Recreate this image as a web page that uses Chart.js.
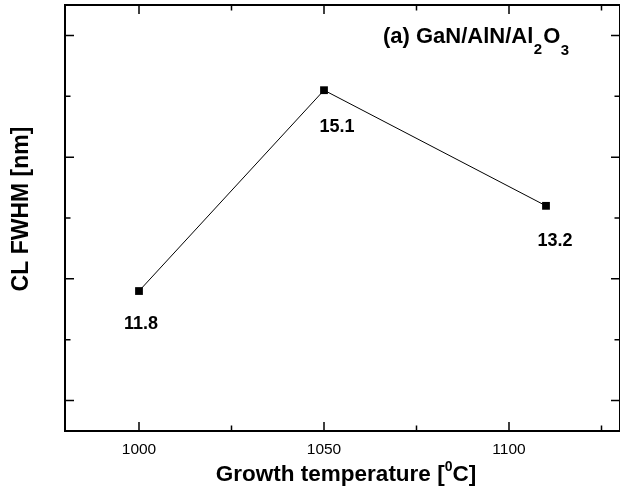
<!DOCTYPE html>
<html>
<head>
<meta charset="utf-8">
<script src="https://cdn.jsdelivr.net/npm/chart.js@4.4.1/dist/chart.umd.min.js"></script>
<style>
  html, body { margin: 0; padding: 0; background: #ffffff; overflow: hidden; }
  #wrap { width: 620px; height: 491px; }
</style>
</head>
<body>
<div id="wrap"><canvas id="c" width="620" height="491"></canvas></div>
<script>
// ---- data ----
const temperatures = [1000, 1050, 1110];
const fwhm = [11.8, 15.1, 13.2];
const pointLabels = ['11.8', '15.1', '13.2'];
const xTickValues = [1000, 1050, 1100];
const xMinorTickValues = [1025, 1075, 1125];
const yMajorTickValues = [10, 12, 14, 16];
const yMinorTickValues = [11, 13, 15];

const FONT = '"Liberation Sans", Arial, Helvetica, sans-serif';

// label placement relative to each point (pixels)
const labelOffsets = [[2, 33], [13, 37], [9, 35]];

const framePlugin = {
  id: 'frame',
  afterDatasetsDraw(chart) {
    const ctx = chart.ctx;
    const a = chart.chartArea;
    const xs = chart.scales.x, ys = chart.scales.y;
    ctx.save();
    ctx.strokeStyle = '#000';
    // ticks
    ctx.lineWidth = 1.5;
    const majorLen = 9, minorLen = 5.5;
    ctx.beginPath();
    const xt = (vals, len) => vals.forEach(v => {
      const px = xs.getPixelForValue(v);
      ctx.moveTo(px, a.bottom); ctx.lineTo(px, a.bottom - len);
      ctx.moveTo(px, a.top); ctx.lineTo(px, a.top + len);
    });
    const yt = (vals, len) => vals.forEach(v => {
      const py = ys.getPixelForValue(v);
      ctx.moveTo(a.left, py); ctx.lineTo(a.left + len, py);
      ctx.moveTo(a.right, py); ctx.lineTo(a.right - len, py);
    });
    xt(xTickValues, majorLen); xt(xMinorTickValues, minorLen);
    yt(yMajorTickValues, majorLen); yt(yMinorTickValues, minorLen);
    ctx.stroke();
    // frame
    ctx.lineWidth = 2;
    ctx.strokeRect(a.left, a.top, a.right - a.left, a.bottom - a.top);

    // point labels
    ctx.fillStyle = '#000';
    ctx.font = 'bold 18px ' + FONT;
    ctx.textAlign = 'center';
    ctx.textBaseline = 'middle';
    const meta = chart.getDatasetMeta(0);
    meta.data.forEach((pt, i) => {
      const o = labelOffsets[i];
      ctx.fillText(pointLabels[i], pt.x + o[0], pt.y + o[1]);
    });

    // annotation "(a) GaN/AlN/Al2O3"
    ctx.textAlign = 'left';
    ctx.textBaseline = 'alphabetic';
    let x = 383; const base = 43;
    const big = 'bold 22px ' + FONT, small = 'bold 15px ' + FONT;
    const parts = [['(a) GaN/AlN/Al', big, 0, 0.5], ['2', small, 11, 1], ['O', big, 0, 0.5], ['3', small, 12, 0]];
    parts.forEach(p => {
      ctx.font = p[1];
      ctx.fillText(p[0], x, base + p[2]);
      x += ctx.measureText(p[0]).width + p[3];
    });

    // x title "Growth temperature [0C]"
    const xb = 481;
    const tBig = 'bold 22.5px ' + FONT, tSmall = 'bold 14px ' + FONT;
    const t1 = 'Growth temperature [', t3 = 'C]';
    ctx.font = tSmall;
    const w2 = ctx.measureText('0').width;
    ctx.font = tBig;
    const w1 = ctx.measureText(t1).width, w3 = ctx.measureText(t3).width;
    const total = w1 + w2 + w3;
    let tx = 346 - total / 2;
    ctx.fillText(t1, tx, xb); tx += w1;
    ctx.font = tSmall;
    ctx.fillText('0', tx, xb - 10); tx += w2;
    ctx.font = tBig;
    ctx.fillText(t3, tx, xb);

    // y title
    ctx.save();
    ctx.translate(22, 209);
    ctx.rotate(-Math.PI / 2);
    ctx.textAlign = 'center';
    ctx.textBaseline = 'middle';
    ctx.font = 'bold 23px ' + FONT;
    ctx.fillText('CL FWHM [nm]', 0, 0);
    ctx.restore();
    ctx.restore();
  }
};

new Chart(document.getElementById('c'), {
  type: 'scatter',
  data: {
    datasets: [{
      data: temperatures.map((t, i) => ({ x: t, y: fwhm[i] })),
      showLine: true,
      borderColor: '#000',
      borderWidth: 1,
      backgroundColor: '#000',
      pointStyle: 'rect',
      pointRadius: 5.5,
      pointBorderWidth: 0,
      pointBackgroundColor: '#000',
      tension: 0
    }]
  },
  options: {
    responsive: false,
    devicePixelRatio: 1,
    animation: false,
    layout: { autoPadding: false, padding: { top: 5, right: -1, bottom: 0, left: 0 } },
    plugins: { legend: { display: false }, tooltip: { enabled: false } },
    scales: {
      x: {
        type: 'linear',
        min: 980, max: 1130,
        grid: { display: false },
        border: { display: false },
        afterBuildTicks(scale) { scale.ticks = xTickValues.map(v => ({ value: v })); },
        afterFit(scale) { scale.height = 60; scale.paddingLeft = 0; scale.paddingRight = 0; },
        ticks: {
          color: '#000',
          font: { family: FONT, size: 15.5 },
          padding: 1,
          maxRotation: 0,
          callback: v => String(v)
        }
      },
      y: {
        type: 'linear',
        min: 9.5, max: 16.5,
        grid: { display: false },
        border: { display: false },
        ticks: { display: false },
        afterFit(scale) { scale.width = 65; scale.paddingTop = 0; scale.paddingBottom = 0; }
      }
    }
  },
  plugins: [framePlugin]
});
</script>
</body>
</html>
